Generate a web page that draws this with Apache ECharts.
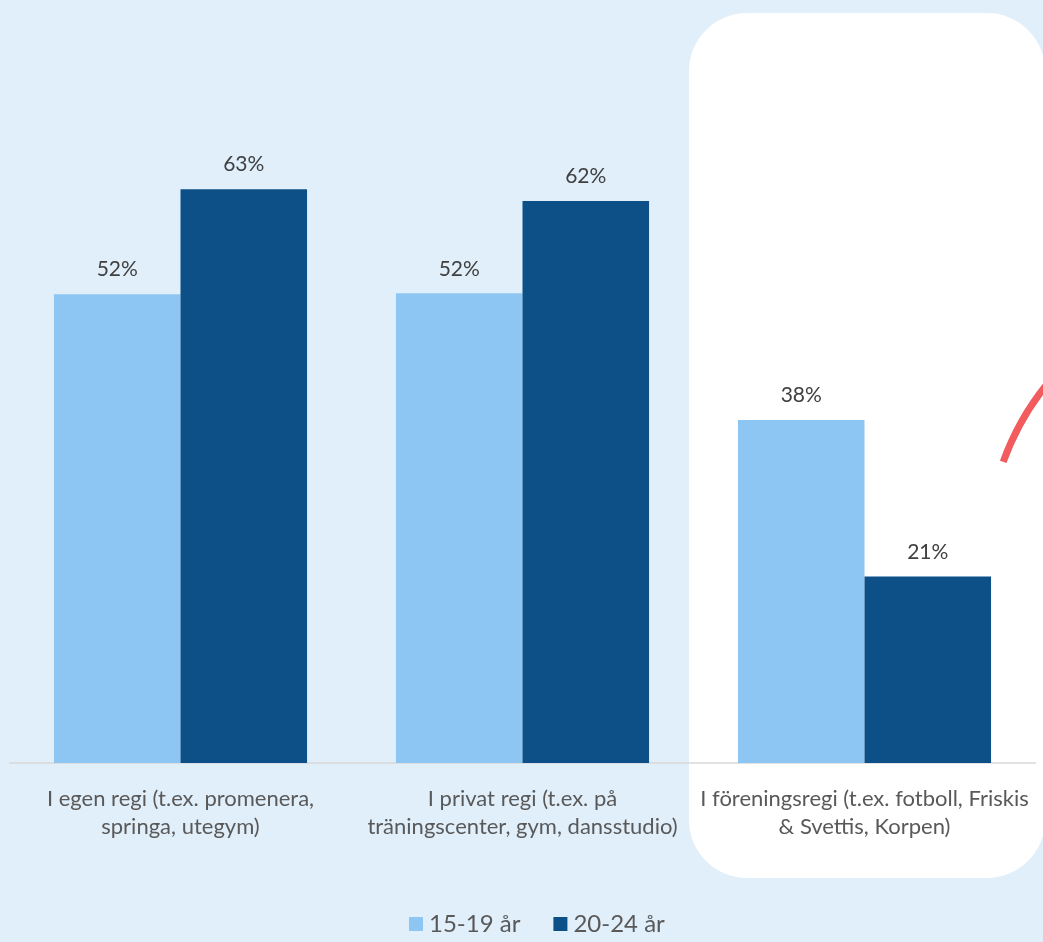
<!DOCTYPE html>
<html>
<head>
<meta charset="utf-8">
<script src="https://cdn.jsdelivr.net/npm/echarts@6/dist/echarts.min.js"></script>
<style>
  html, body { margin: 0; padding: 0; background: #e1effa; }
  #main { width: 1043px; height: 942px; }
</style>
</head>
<body>
<div id="main"></div>
<script>
// kategorier och värden (andel i procent)
var categories = [
  'I egen regi (t.ex. promenera,\nspringa, utegym)',
  'I privat regi (t.ex. på\nträningscenter, gym, dansstudio)',
  'I föreningsregi (t.ex. fotboll, Friskis\n& Svettis, Korpen)'
];
var seriesNames = ['15-19 år', '20-24 år'];
var young = [51.8, 51.9, 37.9];
var older = [63.4, 62.1, 20.6];

var font = 'Lato, "Open Sans", sans-serif';

var chart = echarts.init(document.getElementById('main'), null, { renderer: 'canvas' });

function pct(p) {
  return Math.round(p.value) + '%';
}

var option = {
  backgroundColor: '#e1effa',
  animation: false,
  textStyle: { fontFamily: font },
  // vit ruta bakom föreningsregi + röd båge i kanten
  graphic: [
    {
      type: 'rect',
      z: -10,
      shape: { x: 689, y: 13, width: 356, height: 865, r: 58 },
      style: { fill: '#ffffff' }
    },
    {
      type: 'arc',
      z: 10,
      shape: { cx: 1257, cy: 554, r: 270, startAngle: 3.49, endAngle: 3.95, clockwise: true },
      style: { stroke: '#f25c5f', lineWidth: 7, fill: null }
    }
  ],
  legend: {
    top: 912,
    left: 409,
    padding: 0,
    itemWidth: 14,
    itemHeight: 14,
    itemGap: 33,
    icon: 'rect',
    textStyle: { fontSize: 24, color: '#595959', fontFamily: font, padding: [0, 0, 0, 1] },
    data: seriesNames
  },
  grid: { left: 9.5, right: 7.5, top: 129.5, bottom: 179, containLabel: false },
  xAxis: {
    type: 'category',
    data: categories,
    axisTick: { show: false },
    axisLine: { lineStyle: { color: '#d9d9d9', width: 1.5 } },
    axisLabel: {
      interval: 0,
      margin: 22,
      fontSize: 22,
      lineHeight: 28,
      color: '#595959',
      fontFamily: font
    }
  },
  yAxis: {
    type: 'value',
    min: 0,
    max: 70,
    show: false,
    splitLine: { show: false }
  },
  series: [
    {
      name: seriesNames[0],
      type: 'bar',
      data: young,
      barGap: '0%',
      barCategoryGap: '26%',
      itemStyle: { color: '#8ec6f3' },
      label: { show: true, position: 'top', distance: 14, fontSize: 21, color: '#404040', fontFamily: font, formatter: pct }
    },
    {
      name: seriesNames[1],
      type: 'bar',
      data: older,
      barGap: '0%',
      barCategoryGap: '26%',
      itemStyle: { color: '#0c5087' },
      label: { show: true, position: 'top', distance: 14, fontSize: 21, color: '#404040', fontFamily: font, formatter: pct }
    }
  ]
};

chart.setOption(option);
</script>
</body>
</html>
